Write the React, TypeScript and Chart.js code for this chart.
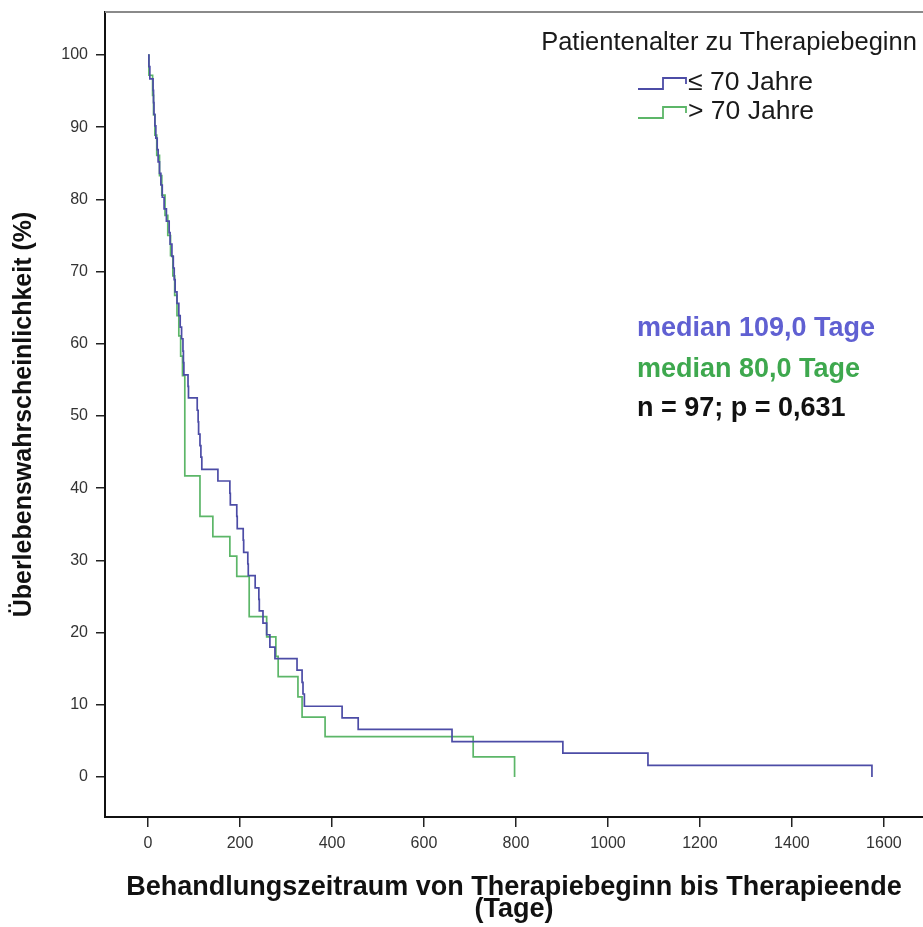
import React, { useEffect, useRef } from "react";
import { Chart, registerables } from "chart.js";

Chart.register(...registerables);

// ---------- data ----------
const xTickValues = [0, 200, 400, 600, 800, 1000, 1200, 1400, 1600];
const yTickValues = [0, 10, 20, 30, 40, 50, 60, 70, 80, 90, 100];

const groupLabels = ["\u2264 70 Jahre", "> 70 Jahre"];
const legendTitle = "Patientenalter zu Therapiebeginn";

// Kaplan-Meier group ≤ 70 Jahre (day of event, survival % after event)
const youngDays = [
  0, 2, 4, 11, 12, 13, 15, 17, 20, 22, 25, 28, 31, 35, 40, 46, 48, 52, 55, 57, 59,
  63, 67, 70, 73, 76, 77, 78, 87, 88, 107, 109, 110, 113, 115, 117, 152, 178, 179,
  193, 194, 207, 208, 217, 218, 233, 241, 242, 250, 258, 265, 276, 324, 335, 337,
  340, 422, 457, 661, 902, 1087, 1574,
];
const youngSurvival = [
  100, 98.4, 96.7, 95.1, 93.4, 91.8, 90.2, 88.5, 86.9, 85.2, 83.6, 82.0, 80.3, 78.7,
  77.0, 75.4, 73.8, 72.1, 70.5, 68.9, 67.2, 65.6, 63.9, 62.3, 60.7, 59.0, 57.4, 55.7,
  54.1, 52.5, 50.8, 49.2, 47.5, 45.9, 44.3, 42.6, 41.0, 39.3, 37.7, 36.1, 34.4, 32.8,
  31.1, 29.5, 27.9, 26.2, 24.6, 23.0, 21.3, 19.7, 18.0, 16.4, 14.8, 13.1, 11.5, 9.8,
  8.2, 6.6, 4.9, 3.3, 1.6, 0,
];

// Kaplan-Meier group > 70 Jahre
const oldDays = [
  0, 2, 10, 12, 15, 19, 25, 30, 37, 43, 49, 54, 58, 63, 67, 71, 75, 80, 113, 141, 178,
  193, 220, 258, 278, 283, 326, 335, 385, 707, 797,
];
const oldSurvival = [
  100, 97.2, 94.4, 91.7, 88.9, 86.1, 83.3, 80.6, 77.8, 75.0, 72.2, 69.4, 66.7, 63.9,
  61.1, 58.3, 55.6, 41.7, 36.1, 33.3, 30.6, 27.8, 22.2, 19.4, 16.7, 13.9, 11.1, 8.3,
  5.6, 2.8, 0,
];

const annotationLines = ["median 109,0 Tage", "median 80,0 Tage", "n = 97; p = 0,631"];
const xTitle = ["Behandlungszeitraum von Therapiebeginn bis Therapieende", "(Tage)"];
const yTitle = "\u00dcberlebenswahrscheinlichkeit (%)";

// ---------- styles ----------
const FONT = '"Liberation Sans", Arial, Helvetica, sans-serif';
const BLUE_LINE = "rgb(76,76,166)";
const GREEN_LINE = "rgb(92,182,104)";
const BLUE_TEXT = "rgb(96,96,210)";
const GREEN_TEXT = "rgb(62,168,78)";
const annotationColors = [BLUE_TEXT, GREEN_TEXT, "#111"];

const overlayPlugin = {
  id: "overlay",
  afterDraw(chart: any) {
    const ctx = chart.ctx as CanvasRenderingContext2D;
    const { left, right, top } = chart.chartArea;
    ctx.save();
    // top frame line
    ctx.strokeStyle = "#8a8a8a";
    ctx.lineWidth = 2;
    ctx.beginPath();
    ctx.moveTo(left, top);
    ctx.lineTo(right, top);
    ctx.stroke();

    // legend
    ctx.fillStyle = "#1a1a1a";
    ctx.textBaseline = "middle";
    ctx.textAlign = "center";
    ctx.font = `25.5px ${FONT}`;
    ctx.fillText(legendTitle, 729, 43);

    const legendColors = [BLUE_LINE, GREEN_LINE];
    const rowY = [83, 112];
    groupLabels.forEach((lbl, i) => {
      const y = rowY[i];
      const x0 = 638;
      ctx.strokeStyle = legendColors[i];
      ctx.lineWidth = 1.8;
      ctx.beginPath();
      ctx.moveTo(x0, y + 6);
      ctx.lineTo(x0 + 25, y + 6);
      ctx.lineTo(x0 + 25, y - 5);
      ctx.lineTo(x0 + 48, y - 5);
      ctx.lineTo(x0 + 48, y + 1);
      ctx.stroke();
      ctx.textAlign = "left";
      ctx.fillStyle = "#1a1a1a";
      ctx.font = `26.5px ${FONT}`;
      ctx.fillText(lbl, x0 + 50, y);
    });

    // annotations
    const annY = [329, 370, 409];
    ctx.textAlign = "left";
    ctx.font = `bold 27px ${FONT}`;
    annotationLines.forEach((t, i) => {
      ctx.fillStyle = annotationColors[i];
      ctx.fillText(t, 637, annY[i]);
    });
    ctx.restore();
  },
};

export default function App() {
  const canvasRef = useRef<HTMLCanvasElement | null>(null);

  useEffect(() => {
    if (!canvasRef.current) return;
    const chart = new Chart(canvasRef.current, {
      type: "line",
      data: {
        datasets: [
          {
            label: groupLabels[0],
            data: youngDays.map((d, i) => ({ x: d, y: youngSurvival[i] })),
            borderColor: BLUE_LINE,
            borderWidth: 1.7,
            pointRadius: 0,
            stepped: "before",
            fill: false,
          },
          {
            label: groupLabels[1],
            data: oldDays.map((d, i) => ({ x: d, y: oldSurvival[i] })),
            borderColor: GREEN_LINE,
            borderWidth: 1.7,
            pointRadius: 0,
            stepped: "before",
            fill: false,
          },
        ],
      },
      options: {
        animation: false,
        responsive: false,
        devicePixelRatio: 1,
        layout: { autoPadding: false, padding: { top: 12, left: 0, right: 0, bottom: 0 } },
        plugins: {
          legend: { display: false },
          tooltip: { enabled: false },
        },
        scales: {
          x: {
            type: "linear",
            position: "bottom",
            min: -93.5,
            max: 1685,
            afterBuildTicks: (s: any) => {
              s.ticks = xTickValues.map((v) => ({ value: v }));
            },
            afterFit: (s: any) => {
              s.height = 110;
              s.paddingLeft = 0;
              s.paddingRight = 0;
            },
            grid: {
              drawOnChartArea: false,
              drawTicks: true,
              tickLength: 10,
              color: "#222",
              lineWidth: 1.5,
            },
            border: { display: true, color: "#111", width: 2 },
            ticks: {
              font: { family: FONT, size: 16 },
              color: "#333",
              padding: 7,
              maxRotation: 0,
              autoSkip: false,
              callback: (v: any) => String(v),
            },
            title: {
              display: true,
              text: xTitle,
              font: { family: FONT, size: 27, weight: "bold", lineHeight: 0.82 },
              color: "#111",
              padding: { top: 0, bottom: 6 },
            },
          },
          y: {
            type: "linear",
            position: "left",
            min: -5.54,
            max: 105.96,
            afterBuildTicks: (s: any) => {
              s.ticks = yTickValues.map((v) => ({ value: v }));
            },
            afterFit: (s: any) => {
              s.width = 105;
              s.paddingTop = 0;
              s.paddingBottom = 0;
            },
            grid: {
              drawOnChartArea: false,
              drawTicks: true,
              tickLength: 9,
              color: "#222",
              lineWidth: 1.5,
            },
            border: { display: true, color: "#111", width: 2 },
            ticks: {
              font: { family: FONT, size: 16 },
              color: "#333",
              padding: 8,
              autoSkip: false,
              callback: (v: any) => String(v),
            },
            title: {
              display: true,
              text: yTitle,
              font: { family: FONT, size: 25, weight: "bold" },
              color: "#111",
              padding: { top: 9, bottom: 0 },
            },
          },
        },
      },
      plugins: [overlayPlugin],
    } as any);
    return () => chart.destroy();
  }, []);

  return (
    <div style={{ position: "absolute", left: 0, top: 0, width: 923, height: 927, background: "#fff" }}>
      <canvas ref={canvasRef} width={923} height={927} style={{ display: "block", width: 923, height: 927 }} />
    </div>
  );
}
